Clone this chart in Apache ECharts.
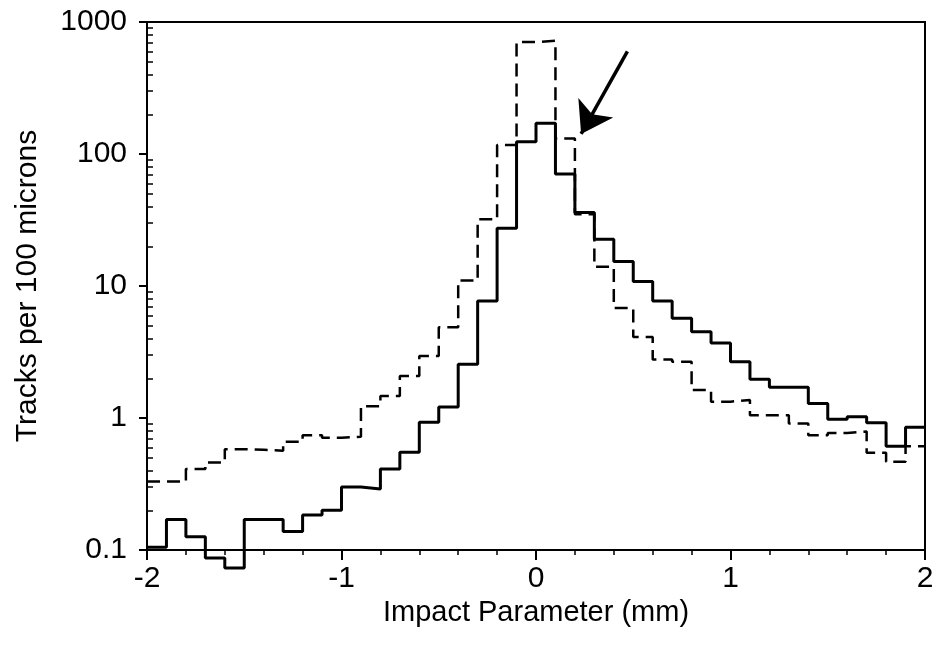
<!DOCTYPE html>
<html><head><meta charset="utf-8">
<script src="https://cdn.jsdelivr.net/npm/echarts@6/dist/echarts.min.js"></script>
<style>html,body{margin:0;padding:0;background:#fff}#c{width:937px;height:648px}</style>
</head><body><div id="c"></div>
<script>
// Bin left edges (mm), 100-micron bins, plus the closing right edge
const binEdges = [-2.0,-1.9,-1.8,-1.7,-1.6,-1.5,-1.4,-1.3,-1.2,-1.1,-1.0,-0.9,-0.8,-0.7,-0.6,-0.5,-0.4,-0.3,-0.2,-0.1,
  0.0,0.1,0.2,0.3,0.4,0.5,0.6,0.7,0.8,0.9,1.0,1.1,1.2,1.3,1.4,1.5,1.6,1.7,1.8,1.9,2.0];
// Solid histogram (tracks per 100 microns)
const solidValues = [0.105,0.17,0.126,0.087,0.073,0.17,0.17,0.138,0.184,0.2,0.3,0.29,0.41,0.55,0.93,1.21,2.55,7.7,27.4,124,
  171,70.5,36,22.6,15.3,10.8,7.7,5.7,4.5,3.7,2.67,1.97,1.71,1.71,1.29,0.98,1.02,0.92,0.61,0.85];
// Dashed histogram
const dashedValues = [0.33,0.33,0.41,0.46,0.58,0.575,0.565,0.66,0.74,0.71,0.72,1.23,1.47,2.08,2.95,4.86,11,32,117,705,
  720,131,35,14,6.8,4.1,2.78,2.67,1.63,1.33,1.37,1.05,1.05,0.91,0.74,0.77,0.79,0.545,0.467,0.61];
// Axis ticks
const yMinorTicks = [0.2,0.3,0.4,0.5,0.6,0.7,0.8,0.9,2,3,4,5,6,7,8,9,20,30,40,50,60,70,80,90,200,300,400,500,600,700,800,900];
// Arrow annotation (data coordinates: start, tip)
const arrowStart = [0.47, 600];
const arrowEnd = [0.232, 142];

function histData(vals){
  const d = vals.map((v,i)=>[binEdges[i], v]);
  d.push([binEdges[binEdges.length-1], vals[vals.length-1]]);
  return d;
}

const FONT = 'Liberation Sans';
const chart = echarts.init(document.getElementById('c'), null, {renderer:'canvas'});
chart.setOption({
  animation:false,
  backgroundColor:'#fff',
  grid:{left:147,right:12,top:22,bottom:98,show:true,borderColor:'#000',borderWidth:2,backgroundColor:'transparent'},
  xAxis:{type:'value',min:-2,max:2,interval:1,
    axisLine:{onZero:false,lineStyle:{color:'#000',width:2}},
    axisTick:{show:true,inside:false,length:10,lineStyle:{color:'#000',width:2}},
    minorTick:{show:true,splitNumber:5,length:5,lineStyle:{color:'#000',width:1.5}},
    splitLine:{show:false},
    axisLabel:{color:'#000',fontFamily:FONT,fontSize:30,margin:14},
    name:'Impact Parameter (mm)',nameLocation:'middle',nameGap:48,
    nameTextStyle:{color:'#000',fontFamily:FONT,fontSize:29}},
  yAxis:[{type:'log',logBase:10,min:0.1,max:1000,
    axisLine:{onZero:false,lineStyle:{color:'#000',width:2}},
    axisTick:{show:true,inside:false,length:8,lineStyle:{color:'#000',width:2}},
    splitLine:{show:false},
    axisLabel:{color:'#000',fontFamily:FONT,fontSize:30,margin:20,
      formatter:v=>String(v)},
    name:'Tracks per 100 microns',nameLocation:'middle',nameGap:104,nameRotate:90,
    nameTextStyle:{color:'#000',fontFamily:FONT,fontSize:30}},
   {type:'log',logBase:10,min:0.1,max:1000,position:'left',offset:0,
    axisLine:{show:false,onZero:false},
    axisTick:{show:true,inside:true,length:6,lineStyle:{color:'#000',width:1.5},customValues:yMinorTicks},
    axisLabel:{show:false},splitLine:{show:false}}],
  series:[
    {type:'line',step:'end',data:histData(dashedValues),showSymbol:false,clip:false,
     lineStyle:{color:'#000',width:2.5,type:[13,7]},z:2,
     markLine:{silent:true,symbol:['none','arrow'],symbolSize:30,label:{show:false},
       lineStyle:{color:'#000',width:3.5,type:'solid'},
       data:[[{coord:arrowStart},{coord:arrowEnd}]]}},
    {type:'line',step:'end',data:histData(solidValues),showSymbol:false,clip:false,
     lineStyle:{color:'#000',width:3},z:3}
  ]
});
</script></body></html>
